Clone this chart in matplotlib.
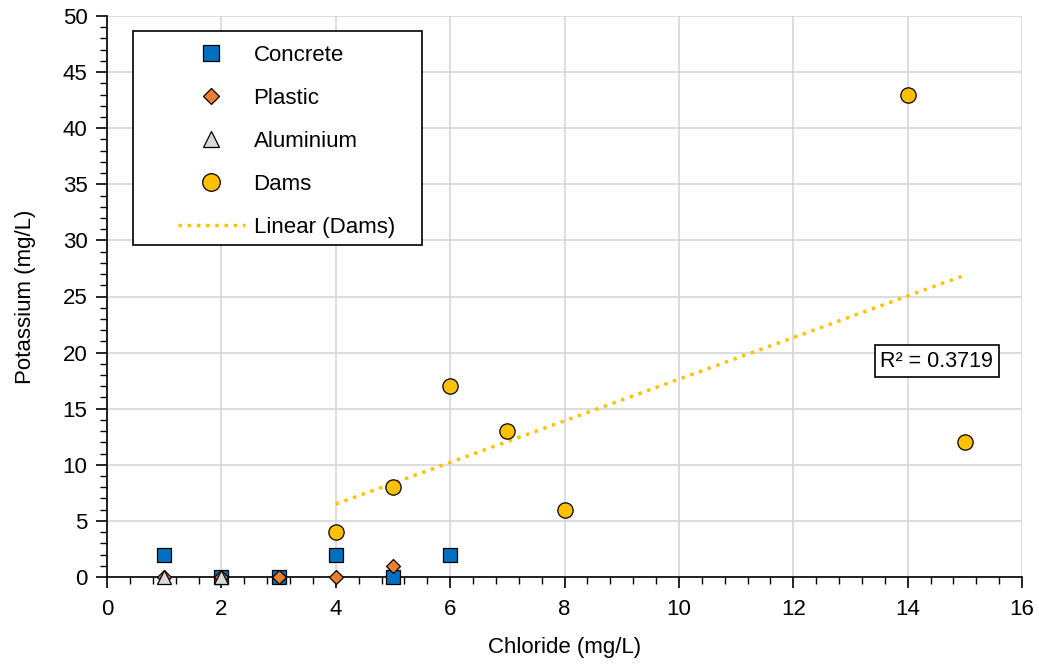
import numpy as np
import matplotlib.pyplot as plt
from matplotlib.ticker import MultipleLocator
from matplotlib.patches import Rectangle

plt.rcParams['font.family'] = ['Liberation Sans', 'DejaVu Sans']

concrete_x = [1, 2, 3, 4, 5, 6]
concrete_y = [2, 0, 0, 2, 0, 2]
plastic_x = [1, 2, 3, 4, 5]
plastic_y = [0, 0, 0, 0, 1]
aluminium_x = [1, 2]
aluminium_y = [0, 0]
dams_x = [4, 5, 6, 7, 8, 14, 15]
dams_y = [4, 8, 17, 13, 6, 43, 12]

W, H = 1039, 668
L, R, T, B = 107, 1022, 16, 577

fig = plt.figure(figsize=(W / 100, H / 100), dpi=100)
ax = fig.add_axes([L / W, 1 - B / H, (R - L) / W, (B - T) / H])

def ax_frac(px, py):
    # pixel position -> axes fraction
    return (px - L) / (R - L), (B - py) / (B - T)

ax.plot(concrete_x, concrete_y, 's', ms=10.5, mfc='#0070C0', mec='black', mew=0.9,
        label='Concrete', zorder=3, clip_on=False)
ax.plot(plastic_x, plastic_y, 'D', ms=7.5, mfc='#ED7D31', mec='black', mew=0.9,
        label='Plastic', zorder=4, clip_on=False)
ax.plot(aluminium_x, aluminium_y, '^', ms=10, mfc='#D9D9D9', mec='black', mew=0.9,
        label='Aluminium', zorder=5, clip_on=False)
ax.plot(dams_x, dams_y, 'o', ms=11, mfc='#FFC000', mec='black', mew=0.9,
        label='Dams', zorder=3, clip_on=False)

# linear trend for dams
slope, intercept = np.polyfit(dams_x, dams_y, 1)
xs = np.array([min(dams_x), max(dams_x)])
ax.plot(xs, slope * xs + intercept, ':', color='#FFC000', lw=2.5, label='Linear (Dams)', zorder=2)
pred = slope * np.array(dams_x) + intercept
r2 = 1 - np.sum((np.array(dams_y) - pred) ** 2) / np.sum((np.array(dams_y) - np.mean(dams_y)) ** 2)
ax.text(14.51, 19.25, f'R² = {r2:.4f}', fontsize=15.5, ha='center', va='center',
        bbox=dict(boxstyle='square,pad=0.25', fc='white', ec='black', lw=1.2))

ax.set_xlim(0, 16)
ax.set_ylim(0, 50)
ax.xaxis.set_major_locator(MultipleLocator(2))
ax.xaxis.set_minor_locator(MultipleLocator(0.4))
ax.yaxis.set_major_locator(MultipleLocator(5))
ax.yaxis.set_minor_locator(MultipleLocator(1))
ax.grid(True, which='major', color='#D9D9D9', lw=1.3)
ax.set_axisbelow(True)
for s in ['top', 'right']:
    ax.spines[s].set_visible(False)
for s in ['left', 'bottom']:
    ax.spines[s].set_linewidth(1.2)
ax.tick_params(which='major', direction='out', length=8, width=1.2, labelsize=16, pad=6)
ax.tick_params(axis='x', which='major', pad=8)
ax.tick_params(which='minor', direction='out', length=5, width=1)

ax.set_xlabel('Chloride (mg/L)', fontsize=16, labelpad=12)
ax.set_ylabel('Potassium (mg/L)', fontsize=16, labelpad=19)

# legend frame drawn separately so its padding can match
x0, y0 = ax_frac(133, 245)
x1, y1 = ax_frac(422, 31)
ax.add_patch(Rectangle((x0, y0), x1 - x0, y1 - y0, transform=ax.transAxes,
                       fc='white', ec='black', lw=1.2, zorder=6, clip_on=False))
lx, ly = ax_frac(178, 45)
leg = ax.legend(loc='upper left', bbox_to_anchor=(lx, ly), fontsize=16,
                frameon=False, labelspacing=0.99, handlelength=3.0, handletextpad=0.4,
                borderpad=0, borderaxespad=0, markerscale=1.15)
leg.set_zorder(7)

fig.savefig('out.png', dpi=100)
